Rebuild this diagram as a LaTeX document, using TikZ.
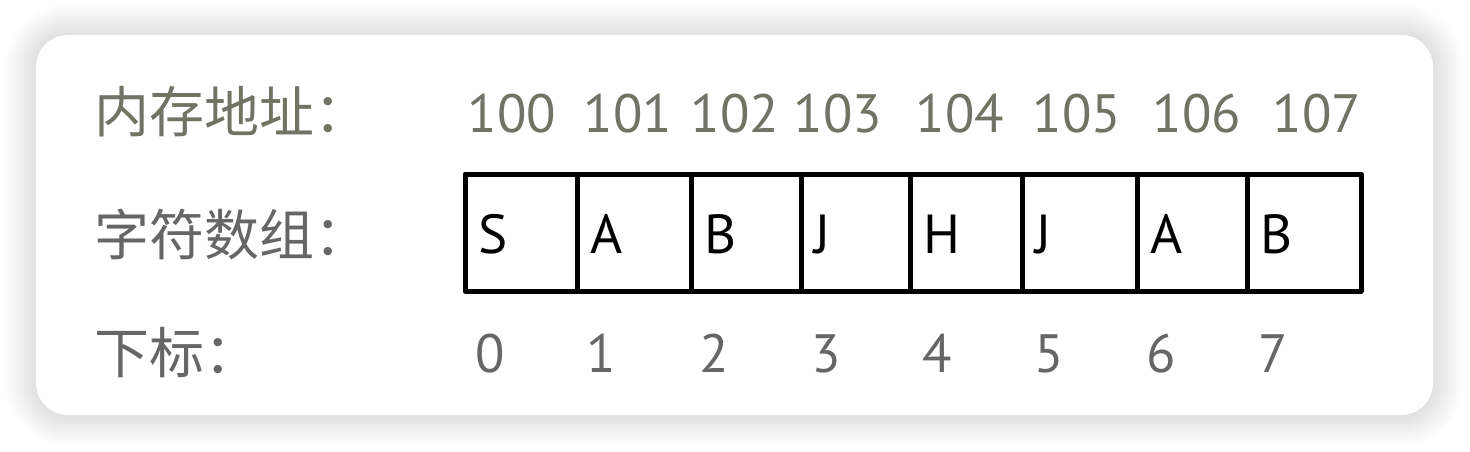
\documentclass[tikz,border=0pt]{standalone}
\usepackage{fontspec}
\setmainfont{PT Sans}
\newfontfamily\cjk{Noto Sans CJK SC}
\definecolor{addrgray}{RGB}{112,116,100}
\definecolor{idxgray}{RGB}{102,102,102}
\begin{document}
\begin{tikzpicture}[x=1pt,y=-1pt,
    rowlabel/.style={anchor=west,inner sep=0pt,font=\cjk\fontsize{55}{60}\selectfont},
    addr/.style={anchor=base,inner sep=0pt,text=addrgray,font=\fontsize{54}{60}\selectfont},
    idx/.style={anchor=base,inner sep=0pt,text=idxgray,font=\fontsize{54}{60}\selectfont},
    letter/.style={anchor=base west,inner sep=0pt,font=\fontsize{55}{60}\selectfont},
    cellbox/.style={draw=black,line width=5pt,line join=round}]
  \useasboundingbox (0,0) rectangle (1470,452);
  \fill[white] (0,0) rectangle (1470,452);
  % shadow round the card
  \foreach \k in {1,...,15}{
    \pgfmathsetmacro{\d}{2*\k}
    \pgfmathsetmacro{\rr}{32+\d}
    \fill[black,opacity=0.009,rounded corners=\rr pt] (36-\d,35-\d) rectangle (1433+\d,415+\d);
  }
  \fill[white,rounded corners=32pt] (36,35) rectangle (1433,415); % card
  % labels
  \node[rowlabel,text=addrgray] (addrlabel) at (94,112) {内存地址：};
  \node[rowlabel,text=idxgray] (arrlabel) at (94,234) {字符数组：};
  \node[rowlabel,text=idxgray] (idxlabel) at (94,353) {下标：};
  % memory addresses
  \foreach \x/\a [count=\i from 0] in {512/100,628/101,735/102,838/103,960/104,1077/105,1197/106,1317/107}
    \node[addr] (addr\i) at (\x,132) {\a};
  % array cells
  \foreach \l/\r/\c [count=\i from 0] in {465/577/S,577/691/A,691/801/B,801/910/J,910/1022/H,1022/1137/J,1137/1247/A,1247/1361/B}{
    \draw[cellbox] (\l,174) rectangle (\r,291);
    \node[letter] (cell\i) at (\l+13,253) {\c};
  }
  % indices
  \foreach \x [count=\i from 0] in {490,601,714,826,937,1049,1161,1273}
    \node[idx] (idx\i) at (\x,372) {\i};
\end{tikzpicture}
\end{document}
